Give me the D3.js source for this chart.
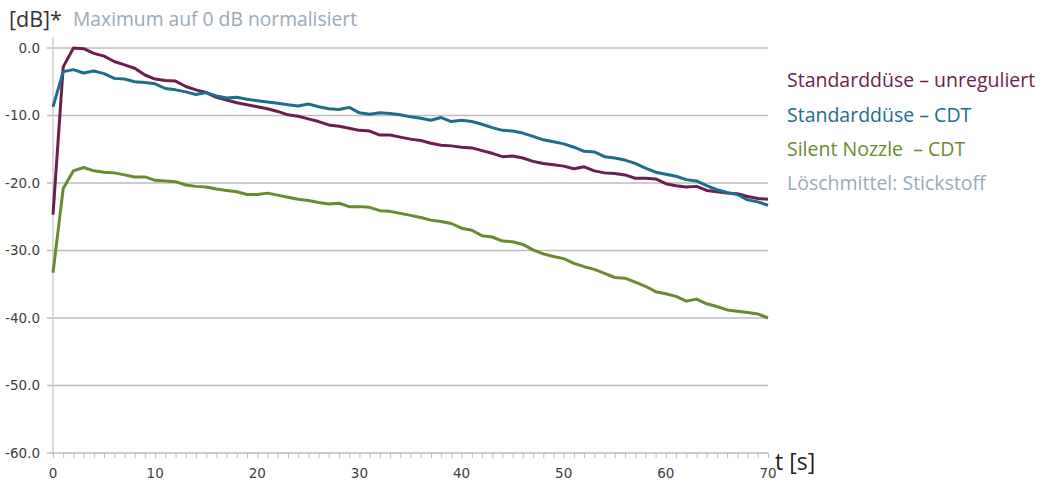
<!DOCTYPE html>
<html><head><meta charset="utf-8">
<script src="https://cdn.jsdelivr.net/npm/d3@7"></script>
<style>body{margin:0;background:#fff;} svg{display:block;font-family:"Open Sans",sans-serif;}</style>
</head><body><svg id="c" width="1041" height="481"></svg>
<script>
const times = d3.range(0, 71);
const unreguliert = [-24.7,-2.8,0.0,-0.1,-0.8,-1.2,-2.0,-2.5,-3.0,-4.0,-4.6,-4.8,-4.9,-5.7,-6.2,-6.6,-7.3,-7.7,-8.1,-8.4,-8.7,-9.0,-9.4,-9.9,-10.1,-10.5,-10.9,-11.4,-11.6,-11.9,-12.2,-12.3,-12.9,-12.9,-13.2,-13.5,-13.7,-14.1,-14.4,-14.5,-14.7,-14.8,-15.2,-15.6,-16.1,-16.0,-16.3,-16.8,-17.1,-17.3,-17.5,-17.9,-17.6,-18.2,-18.5,-18.6,-18.8,-19.3,-19.3,-19.4,-20.1,-20.4,-20.6,-20.5,-21.1,-21.3,-21.5,-21.6,-22.0,-22.3,-22.4];
const standardCDT = [-8.7,-3.5,-3.2,-3.7,-3.4,-3.8,-4.5,-4.6,-5.0,-5.1,-5.3,-6.0,-6.2,-6.5,-6.9,-6.6,-7.1,-7.4,-7.3,-7.6,-7.8,-8.0,-8.2,-8.4,-8.6,-8.3,-8.7,-9.0,-9.1,-8.8,-9.6,-9.8,-9.6,-9.7,-9.9,-10.2,-10.4,-10.7,-10.3,-10.9,-10.7,-10.9,-11.3,-11.8,-12.2,-12.3,-12.6,-13.1,-13.6,-13.9,-14.2,-14.7,-15.3,-15.4,-16.1,-16.3,-16.6,-17.1,-17.8,-18.4,-18.7,-19.0,-19.5,-19.7,-20.4,-21.0,-21.4,-21.7,-22.5,-22.8,-23.3];
const silentCDT = [-33.3,-20.8,-18.2,-17.7,-18.2,-18.4,-18.5,-18.8,-19.1,-19.1,-19.6,-19.7,-19.8,-20.3,-20.5,-20.6,-20.9,-21.1,-21.3,-21.7,-21.7,-21.5,-21.8,-22.1,-22.4,-22.6,-22.9,-23.1,-23.0,-23.5,-23.5,-23.6,-24.1,-24.2,-24.5,-24.8,-25.1,-25.5,-25.7,-26.0,-26.7,-27.0,-27.8,-28.0,-28.6,-28.7,-29.1,-29.9,-30.5,-30.9,-31.2,-31.9,-32.4,-32.8,-33.4,-34.0,-34.1,-34.7,-35.3,-36.1,-36.4,-36.8,-37.5,-37.2,-37.9,-38.3,-38.8,-39.0,-39.2,-39.4,-40.0];
const seriesNames = ["Standarddüse – unreguliert", "Standarddüse – CDT", "Silent Nozzle  – CDT"];
const seriesColors = ["#6b1f4e", "#1c6e8c", "#6a8a2f"];
const yTicks = [0, -10, -20, -30, -40, -50, -60];
const xTicks = [0, 10, 20, 30, 40, 50, 60, 70];
const noteText = "Löschmittel: Stickstoff";

const svg = d3.select("#c");
const x = d3.scaleLinear().domain([0, 70]).range([53, 768]);
const y = d3.scaleLinear().domain([-60, 0]).range([453, 48]);

// grid
svg.append("g").selectAll("line").data(yTicks.filter(d => d !== -60)).join("line")
  .attr("x1", 47).attr("x2", 768).attr("y1", d => y(d)).attr("y2", d => y(d))
  .attr("stroke", "#bdbdbd").attr("stroke-width", 1.3);

// y axis line
svg.append("line").attr("x1", 53).attr("x2", 53).attr("y1", 37).attr("y2", 453)
  .attr("stroke", "#cfcfcf").attr("stroke-width", 1.5);

// y labels
svg.append("g").selectAll("text").data(yTicks).join("text")
  .attr("x", 40).attr("y", d => y(d)).attr("dy", "0.35em").attr("text-anchor", "end")
  .attr("font-size", 13.5).attr("fill", "#404040")
  .attr("font-family", "'DejaVu Sans',sans-serif")
  .text(d => d3.format(".1f")(d).replace("\u2212", "-"));

// x axis
const xAxis = d3.axisBottom(x).tickValues(d3.range(0, 71)).tickSize(5).tickFormat("");
const gx = svg.append("g").attr("transform", "translate(0,453)").call(xAxis);
gx.select(".domain").attr("stroke", "#bdbdbd").attr("stroke-width", 1.3).attr("d", "M47,0H768");
gx.selectAll(".tick line").attr("stroke", "#bdbdbd");
svg.append("g").selectAll("text").data(xTicks).join("text")
  .attr("x", d => x(d)).attr("y", 478).attr("text-anchor", "middle")
  .attr("font-size", 13.5).attr("fill", "#404040")
  .attr("font-family", "'DejaVu Sans',sans-serif")
  .text(d => d);

// lines
const line = d3.line().x((d, i) => x(times[i])).y(d => y(d));
[unreguliert, standardCDT, silentCDT].forEach((s, i) => {
  svg.append("path").datum(s).attr("d", line).attr("fill", "none")
    .attr("stroke", seriesColors[i]).attr("stroke-width", 3).attr("stroke-linejoin", "round");
});

// title
svg.append("text").attr("x", 9).attr("y", 27).attr("font-size", 21.5).attr("fill", "#333").text("[dB]*");
svg.append("text").attr("x", 73).attr("y", 26).attr("font-size", 19.3).attr("fill", "#9aaab8").text("Maximum auf 0 dB normalisiert");

// legend
const legY = [87, 122, 156];
seriesNames.forEach((n, i) => {
  svg.append("text").attr("x", 787).attr("y", legY[i]).attr("font-size", 19.5)
    .attr("fill", seriesColors[i]).attr("xml:space", "preserve").style("white-space", "pre").text(n);
});
svg.append("text").attr("x", 787).attr("y", 190).attr("font-size", 19.5).attr("fill", "#9aaab8").text(noteText);

// axis title
svg.append("text").attr("x", 775).attr("y", 470).attr("font-size", 23).attr("fill", "#222").text("t [s]");
</script></body></html>
